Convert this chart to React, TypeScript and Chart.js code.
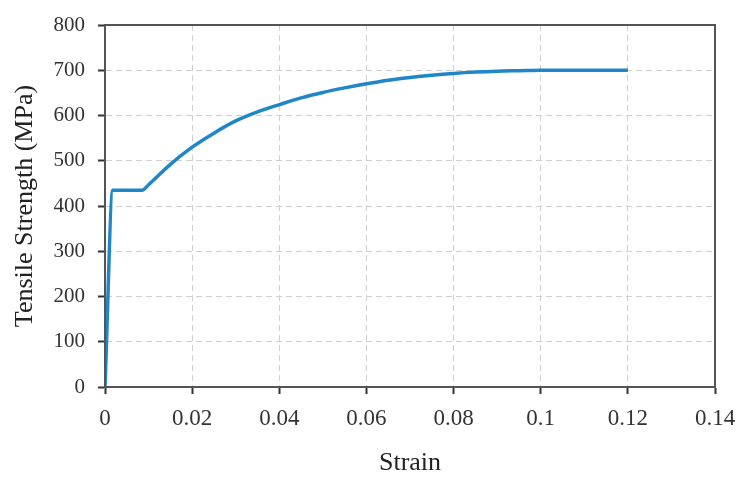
import React, { useEffect, useRef } from "react";
import { Chart, registerables } from "chart.js";

Chart.register(...registerables);

const strain = [0, 0.0018, 0.0085, 0.01, 0.015, 0.02, 0.025, 0.03, 0.035, 0.04, 0.045, 0.05, 0.055, 0.06, 0.065, 0.07, 0.075, 0.08, 0.085, 0.09, 0.095, 0.1, 0.11, 0.12];
const stress = [0, 435, 435, 447, 492, 530, 561, 588, 608, 624, 639, 651, 661, 670, 678, 684, 689, 693, 696, 698, 699, 700, 700, 700];

const xTickValues = [0, 0.02, 0.04, 0.06, 0.08, 0.1, 0.12, 0.14];
const xTickLabels = ["0", "0.02", "0.04", "0.06", "0.08", "0.1", "0.12", "0.14"];
const yTickValues = [0, 100, 200, 300, 400, 500, 600, 700, 800];
const yTickLabels = ["0", "100", "200", "300", "400", "500", "600", "700", "800"];

const FONT = "'Liberation Serif', 'Times New Roman', serif";

const framePlugin = {
  id: "frame",
  afterDraw(chart: any) {
    const { ctx, chartArea } = chart;
    ctx.save();
    ctx.strokeStyle = "#555555";
    ctx.lineWidth = 2;
    ctx.setLineDash([]);
    ctx.strokeRect(chartArea.left, chartArea.top, chartArea.right - chartArea.left, chartArea.bottom - chartArea.top);
    ctx.restore();
  },
};

export default function App() {
  const ref = useRef<HTMLCanvasElement | null>(null);

  useEffect(() => {
    if (!ref.current) return;
    const chart = new Chart(ref.current, {
      type: "line",
      data: {
        datasets: [
          {
            data: strain.map((x, i) => ({ x, y: stress[i] })),
            borderColor: "#1f86c8",
            borderWidth: 3.5,
            pointRadius: 0,
            fill: false,
            cubicInterpolationMode: "monotone",
          },
        ],
      },
      options: {
        animation: false,
        responsive: false,
        maintainAspectRatio: false,
        layout: { padding: { left: 0, right: 24, top: 25, bottom: 0 } },
        plugins: { legend: { display: false }, tooltip: { enabled: false } },
        scales: {
          x: {
            type: "linear",
            min: 0,
            max: 0.14,
            afterBuildTicks: (s: any) => {
              s.ticks = xTickValues.map((v) => ({ value: v }));
            },
            afterFit: (s: any) => {
              s.height = 90;
              s.paddingLeft = 0;
              s.paddingRight = 0;
            },
            ticks: {
              callback: (_v: any, i: number) => xTickLabels[i],
              font: { family: FONT, size: 23 },
              color: "#333333",
              padding: 11,
              maxRotation: 0,
            },
            grid: {
              color: "#cfcfcf",
              lineWidth: 1,
              drawTicks: true,
              tickLength: 7,
              tickColor: "#333333",
              tickWidth: 2,
            },
            border: { display: true, color: "#555555", width: 2, dash: [6, 4] },
            title: {
              display: true,
              text: "Strain",
              font: { family: FONT, size: 26 },
              color: "#222222",
              padding: { top: 0, bottom: -2 },
            },
          },
          y: {
            type: "linear",
            min: 0,
            max: 800,
            afterBuildTicks: (s: any) => {
              s.ticks = yTickValues.map((v) => ({ value: v }));
            },
            afterFit: (s: any) => {
              s.width = 105;
              s.paddingTop = 0;
              s.paddingBottom = 0;
            },
            ticks: {
              callback: (_v: any, i: number) => yTickLabels[i],
              font: { family: FONT, size: 21 },
              color: "#333333",
              padding: 13,
            },
            grid: {
              color: "#cfcfcf",
              lineWidth: 1,
              drawTicks: true,
              tickLength: 7,
              tickColor: "#333333",
              tickWidth: 2,
            },
            border: { display: true, color: "#555555", width: 2, dash: [6, 4] },
            title: {
              display: true,
              text: "Tensile Strength (MPa)",
              font: { family: FONT, size: 26 },
              color: "#222222",
              padding: { top: 10, bottom: 0 },
            },
          },
        },
      },
      plugins: [framePlugin],
    } as any);
    return () => chart.destroy();
  }, []);

  return (
    <div style={{ position: "fixed", left: 0, top: 0, width: 739, height: 477, background: "#ffffff" }}>
      <canvas ref={ref} width={739} height={477} style={{ width: 739, height: 477, display: "block" }} />
    </div>
  );
}
